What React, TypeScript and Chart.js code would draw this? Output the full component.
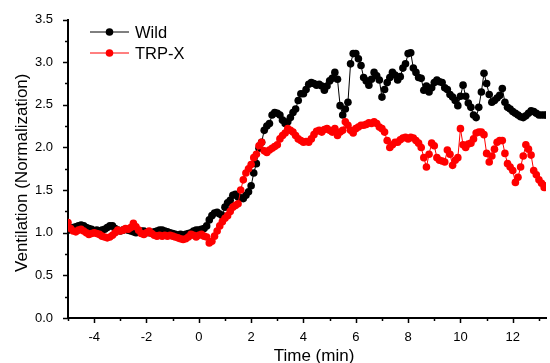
import React, { useEffect, useRef } from "react";
import { Chart, registerables } from "chart.js";

Chart.register(...registerables);

// Sampling grid of the recordings (minutes)
const TIME_START = -5.0;
const TIME_STEP = 0.1;

const SERIES_LABELS = ["Wild", "TRP-X"];
const SERIES_COLORS = ["#000000", "#ff0000"];
const X_TITLE = "Time (min)";
const Y_TITLE = "Ventilation (Normalization)";

// Wild, one value every 0.1 min from -5.0 to 13.3
const wildValues = [
  1.03, 1.05, 1.06, 1.07, 1.08, 1.09, 1.08, 1.06, 1.05, 1.04,
  1.02, 1.03, 1.02, 1.03, 1.04, 1.06, 1.08, 1.08, 1.05, 1.03,
  1.02, 1.03, 1.04, 1.03, 1.02, 1.01, 1.00, 1.01, 1.02, 1.02,
  1.01, 1.00, 1.00, 1.01, 1.02, 1.03, 1.03, 1.02, 1.01, 1.00,
  0.99, 0.98, 0.97, 0.98, 0.97, 0.98, 0.99, 1.00, 1.02, 1.03,
  1.03, 1.04, 1.05, 1.08, 1.15, 1.20, 1.23, 1.24, 1.22, 1.20,
  1.30, 1.35, 1.38, 1.44, 1.45, 1.42, 1.41, 1.40, 1.44, 1.48,
  1.55, 1.70, 1.81, 1.99, 2.06, 2.20, 2.25, 2.28, 2.38, 2.41,
  2.40, 2.38, 2.32, 2.28, 2.30, 2.35, 2.41, 2.45, 2.55, 2.63,
  2.63, 2.68, 2.74, 2.76, 2.75, 2.73, 2.74, 2.72, 2.67, 2.72,
  2.78, 2.81, 2.88, 2.80, 2.49, 2.38, 2.45, 2.53, 2.98, 3.10,
  3.10, 3.04, 2.96, 2.82, 2.78, 2.73, 2.80, 2.88, 2.84, 2.79,
  2.59, 2.68, 2.76, 2.82, 2.88, 2.85, 2.79, 2.83, 2.93, 2.98,
  3.10, 3.11, 2.93, 2.88, 2.82, 2.81, 2.67, 2.72, 2.65, 2.70,
  2.76, 2.79, 2.77, 2.76, 2.70, 2.68, 2.62, 2.59, 2.55, 2.49,
  2.60, 2.73, 2.60, 2.52, 2.47, 2.38, 2.35, 2.47, 2.65, 2.87,
  2.75, 2.62, 2.53, 2.55, 2.58, 2.61, 2.69, 2.53, 2.47, 2.45,
  2.42, 2.40, 2.38, 2.36, 2.35, 2.37, 2.40, 2.43, 2.42, 2.40,
  2.38, 2.38, 2.38, 2.38,
];

// TRP-X, one value every 0.1 min from -5.0 to 13.3
const trpxValues = [
  1.12, 1.05, 1.02, 1.01, 1.03, 1.04, 1.02, 1.00, 0.98, 0.99,
  1.00, 0.99, 0.98, 0.96, 0.95, 0.94, 0.95, 0.97, 1.00, 1.03,
  1.02, 1.03, 1.05, 1.04, 1.06, 1.11, 1.07, 1.03, 0.99, 0.98,
  1.00, 1.02, 0.99, 0.97, 0.96, 0.97, 0.96, 0.97, 0.96, 0.97,
  0.96, 0.95, 0.94, 0.93, 0.92, 0.93, 0.95, 0.98, 0.97, 0.95,
  0.97, 0.98, 0.96, 0.95, 0.88, 0.90, 0.96, 1.02, 1.08, 1.13,
  1.17, 1.20, 1.25, 1.30, 1.32, 1.34, 1.50, 1.62, 1.70, 1.75,
  1.80, 1.88, 1.92, 2.02, 2.06, 1.96, 1.94, 1.97, 1.99, 2.01,
  2.03, 2.10, 2.14, 2.17, 2.22, 2.20, 2.18, 2.14, 2.10, 2.08,
  2.06, 2.07, 2.06, 2.10, 2.15, 2.19, 2.20, 2.18, 2.21, 2.22,
  2.20, 2.18, 2.22, 2.14, 2.18, 2.20, 2.30, 2.26, 2.20, 2.17,
  2.22, 2.24, 2.26, 2.26, 2.27, 2.29, 2.28, 2.30, 2.28, 2.24,
  2.22, 2.18, 2.08, 2.00, 2.03, 2.06, 2.06, 2.09, 2.11, 2.12,
  2.10, 2.12, 2.11, 2.08, 2.05, 2.00, 1.88, 1.77, 1.92, 2.05,
  2.02, 1.88, 1.85, 1.84, 1.83, 1.97, 1.92, 1.79, 1.85, 1.88,
  2.22, 2.03, 2.00, 2.04, 2.05, 2.10, 2.17, 2.18, 2.18, 2.15,
  1.93, 1.83, 1.90, 1.98, 2.06, 2.08, 2.08, 1.93, 1.81, 1.77,
  1.73, 1.59, 1.65, 1.77, 1.90, 2.03, 1.98, 1.91, 1.73, 1.68,
  1.62, 1.58, 1.53, 1.55,
];

const X_MIN = -5;
const X_MAX = 13.27;
const Y_MIN = 0;
const Y_MAX = 3.5;
const X_MAJOR = [-4, -2, 0, 2, 4, 6, 8, 10, 12];
const X_MINOR = [-5, -3, -1, 1, 3, 5, 7, 9, 11, 13];
const Y_MAJOR = [0, 0.5, 1.0, 1.5, 2.0, 2.5, 3.0, 3.5];
const Y_MINOR = [0.25, 0.75, 1.25, 1.75, 2.25, 2.75, 3.25];

const FONT = "'Liberation Sans', Arial, sans-serif";

const toPoints = (vals: number[]) =>
  vals.map((v, i) => ({ x: TIME_START + i * TIME_STEP, y: v }));

const tickMarksPlugin = {
  id: "tickMarks",
  afterDraw(chart: any) {
    const { ctx, scales } = chart;
    const xs = scales.x;
    const ys = scales.y;
    ctx.save();
    ctx.strokeStyle = "#000";
    ctx.lineWidth = 1.5;
    const bottom = ys.getPixelForValue(Y_MIN);
    const left = xs.getPixelForValue(X_MIN);
    const drawX = (v: number, len: number) => {
      const p = Math.round(xs.getPixelForValue(v)) + 0.5;
      ctx.beginPath();
      ctx.moveTo(p, bottom);
      ctx.lineTo(p, bottom + len);
      ctx.stroke();
    };
    const drawY = (v: number, len: number) => {
      const p = Math.round(ys.getPixelForValue(v)) + 0.5;
      ctx.beginPath();
      ctx.moveTo(left, p);
      ctx.lineTo(left - len, p);
      ctx.stroke();
    };
    X_MAJOR.forEach((v) => drawX(v, 5));
    X_MINOR.forEach((v) => drawX(v, 3));
    Y_MAJOR.forEach((v) => drawY(v, 5));
    Y_MINOR.forEach((v) => drawY(v, 3));

    // axis titles
    const { chartArea } = chart;
    ctx.fillStyle = "#000";
    ctx.font = `17px ${FONT}`;
    ctx.textAlign = "center";
    ctx.textBaseline = "alphabetic";
    ctx.fillText(X_TITLE, (chartArea.left + chartArea.right) / 2 + 7, 361);
    ctx.save();
    ctx.translate(27, (chartArea.top + chartArea.bottom) / 2 + 4);
    ctx.rotate(-Math.PI / 2);
    ctx.fillText(Y_TITLE, 0, 0);
    ctx.restore();
    ctx.restore();
  },
};

const legendPlugin = {
  id: "customLegend",
  afterDraw(chart: any) {
    const { ctx, chartArea } = chart;
    ctx.save();
    SERIES_LABELS.forEach((label, i) => {
      const y = chartArea.top + 12.5 + i * 21;
      const x0 = chartArea.left + 22;
      const x1 = x0 + 39;
      ctx.strokeStyle = SERIES_COLORS[i];
      ctx.lineWidth = 1;
      ctx.beginPath();
      ctx.moveTo(x0, y);
      ctx.lineTo(x1, y);
      ctx.stroke();
      ctx.fillStyle = SERIES_COLORS[i];
      ctx.beginPath();
      ctx.arc((x0 + x1) / 2, y, 3.8, 0, Math.PI * 2);
      ctx.fill();
      ctx.fillStyle = "#000";
      ctx.font = `16.5px ${FONT}`;
      ctx.textBaseline = "middle";
      ctx.textAlign = "left";
      ctx.fillText(label, x1 + 6, y + 1);
    });
    ctx.restore();
  },
};

export default function App() {
  const canvasRef = useRef<HTMLCanvasElement | null>(null);

  useEffect(() => {
    document.body.style.margin = "0";
    const canvas = canvasRef.current;
    if (!canvas) return;
    const chart = new Chart(canvas, {
      type: "line",
      data: {
        datasets: [
          {
            label: SERIES_LABELS[0],
            data: toPoints(wildValues),
            borderColor: SERIES_COLORS[0],
            backgroundColor: SERIES_COLORS[0],
            borderWidth: 1,
            pointRadius: 3.8,
            pointBorderWidth: 0,
            pointBackgroundColor: SERIES_COLORS[0],
            order: 1,
          },
          {
            label: SERIES_LABELS[1],
            data: toPoints(trpxValues),
            borderColor: SERIES_COLORS[1],
            backgroundColor: SERIES_COLORS[1],
            borderWidth: 1,
            pointRadius: 3.8,
            pointBorderWidth: 0,
            pointBackgroundColor: SERIES_COLORS[1],
            order: 0,
          },
        ],
      },
      options: {
        animation: false,
        responsive: false,
        maintainAspectRatio: false,
        layout: { padding: { top: 19.5, right: 0, left: 0, bottom: 0 } },
        plugins: {
          legend: { display: false },
          tooltip: { enabled: false },
        },
        scales: {
          x: {
            type: "linear",
            min: X_MIN,
            max: X_MAX,
            afterFit: (scale: any) => {
              scale.height = 45;
            },
            grid: {
              display: true,
              drawOnChartArea: false,
              drawTicks: true,
              tickLength: 5,
              tickColor: "rgba(0,0,0,0)",
            },
            border: { display: true, color: "#000", width: 2 },
            ticks: {
              stepSize: 1,
              includeBounds: false,
              maxRotation: 0,
              autoSkip: false,
              color: "#000",
              padding: 7,
              font: { family: FONT, size: 13 },
              callback: (v: any) =>
                X_MAJOR.includes(Number(v)) ? String(v) : "",
            },
            title: { display: false },
          },
          y: {
            type: "linear",
            min: Y_MIN,
            max: Y_MAX,
            afterFit: (scale: any) => {
              scale.width = 68;
            },
            grid: {
              display: true,
              drawOnChartArea: false,
              drawTicks: true,
              tickLength: 5,
              tickColor: "rgba(0,0,0,0)",
            },
            border: { display: true, color: "#000", width: 2 },
            ticks: {
              stepSize: 0.25,
              autoSkip: false,
              color: "#000",
              padding: 10,
              font: { family: FONT, size: 13 },
              callback: (v: any) =>
                Y_MAJOR.some((m) => Math.abs(m - Number(v)) < 1e-6)
                  ? Number(v).toFixed(1)
                  : "",
            },
            title: { display: false },
          },
        },
      },
      plugins: [tickMarksPlugin, legendPlugin],
    });
    return () => chart.destroy();
  }, []);

  return (
    <div style={{ width: 550, height: 363, background: "#fff" }}>
      <canvas ref={canvasRef} width={550} height={363} style={{ display: "block" }} />
    </div>
  );
}
